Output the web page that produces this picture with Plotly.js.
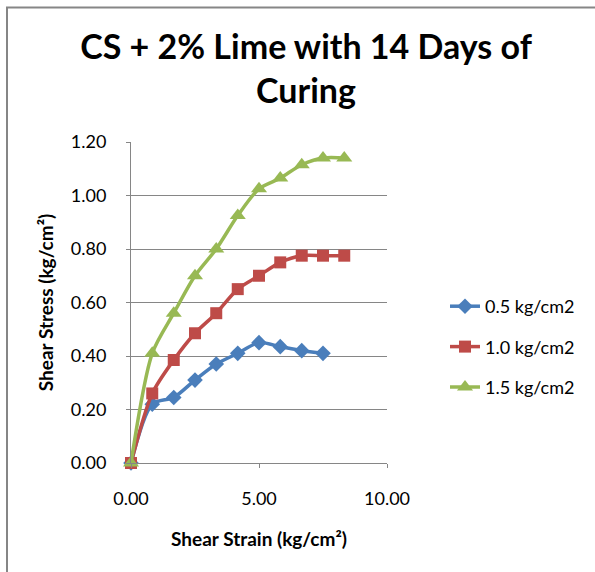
<!DOCTYPE html>
<html>
<head>
<meta charset="utf-8">
<script src="https://cdn.plot.ly/plotly-3.0.1.min.js"></script>
<style>
html,body{margin:0;padding:0;background:#fff;}
#chart{width:595px;height:572px;}
</style>
</head>
<body>
<div id="chart"></div>
<script>
// Data
const strain = [0, 0.83, 1.67, 2.5, 3.33, 4.17, 5.0, 5.83, 6.67, 7.5, 8.33];
const stress05 = [0, 0.22, 0.245, 0.31, 0.37, 0.41, 0.45, 0.435, 0.42, 0.41];
const stress10 = [0, 0.26, 0.385, 0.485, 0.56, 0.65, 0.70, 0.75, 0.775, 0.775, 0.775];
const stress15 = [0, 0.41, 0.56, 0.70, 0.80, 0.925, 1.025, 1.065, 1.115, 1.14, 1.14];
const seriesNames = ["0.5 kg/cm2", "1.0 kg/cm2", "1.5 kg/cm2"];
const xTickVals = [0, 5, 10];
const yTickVals = [0, 0.2, 0.4, 0.6, 0.8, 1.0, 1.2];

const colors = ["#4A7EBB", "#BE4B48", "#98B954"];
const symbols = ["diamond", "square", "triangle-up"];
const sizes = [12, 12, 14];
const ys = [stress05, stress10, stress15];

const traces = ys.map((y, i) => ({
  x: strain.slice(0, y.length),
  y: y,
  name: seriesNames[i],
  type: "scatter",
  mode: "lines+markers",
  cliponaxis: false,
  legendgroup: "g" + i,
  line: {color: colors[i], width: 3.5, shape: "spline", smoothing: 0.8},
  marker: {color: colors[i], symbol: symbols[i], size: sizes[i], line: {width: 0}}
}));

const L = 131, R = 208, T = 142, B = 109;
const pw = 595 - L - R, ph = 572 - T - B;
const px2x = p => (p - L) / pw;
const px2y = p => (572 - B - p) / ph;

const layout = {
  width: 595, height: 572,
  margin: {l: L, r: R, t: T, b: B, pad: 0},
  paper_bgcolor: "#ffffff",
  plot_bgcolor: "#ffffff",
  font: {family: "Lato, 'Open Sans', sans-serif", color: "#000000", size: 18},
  title: {
    text: "<b>CS + 2% Lime with 14 Days of<br>Curing</b>",
    font: {family: "Lato, 'Open Sans', sans-serif", size: 34, color: "#000000"},
    x: 306/595, xanchor: "center", xref: "container",
    y: 1 - 59/572, yanchor: "top", yref: "container"
  },
  xaxis: {
    range: [0, 10],
    tickvals: xTickVals,
    tickformat: ".2f",
    showgrid: false,
    zeroline: false,
    showline: true,
    linecolor: "#868686",
    linewidth: 1,
    ticks: "outside",
    ticklen: 4,
    tickcolor: "#868686",
    ticklabelstandoff: 15,
    tickfont: {size: 18},
    title: {text: "<b>Shear Strain (kg/cm²)</b>", font: {size: 19}, standoff: 25}
  },
  yaxis: {
    range: [0, 1.2],
    tickvals: yTickVals,
    tickformat: ".2f",
    showgrid: true,
    gridcolor: "#868686",
    gridwidth: 1,
    zeroline: false,
    showline: true,
    linecolor: "#868686",
    linewidth: 1,
    ticks: "outside",
    ticklen: 4,
    tickcolor: "#868686",
    ticklabelstandoff: 16,
    tickfont: {size: 18},
    title: {text: "<b>Shear Stress (kg/cm²)</b>", font: {size: 19}, standoff: 12}
  },
  showlegend: true,
  legend: {
    x: px2x(445), xanchor: "left",
    y: px2y(288), yanchor: "top",
    font: {size: 18},
    traceorder: "grouped",
    tracegroupgap: 14,
    bgcolor: "rgba(0,0,0,0)"
  },
  shapes: [{
    type: "rect", xref: "paper", yref: "paper",
    x0: px2x(7), x1: px2x(700), y0: px2y(700), y1: px2y(7.5),
    line: {color: "#868686", width: 2}, fillcolor: "rgba(0,0,0,0)", layer: "below"
  }]
};

Plotly.newPlot("chart", traces, layout, {displayModeBar: false, staticPlot: true});
</script>
</body>
</html>
